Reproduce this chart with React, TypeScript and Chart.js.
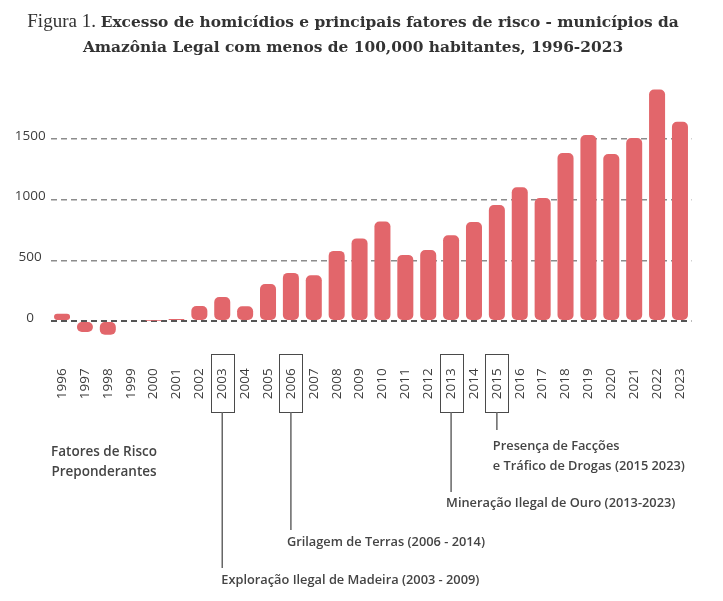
import React, { useEffect, useRef } from 'react';
import { Chart, registerables } from 'chart.js';

Chart.register(...registerables);

// ---- data ----
const years = [
  '1996', '1997', '1998', '1999', '2000', '2001', '2002', '2003', '2004', '2005',
  '2006', '2007', '2008', '2009', '2010', '2011', '2012', '2013', '2014', '2015',
  '2016', '2017', '2018', '2019', '2020', '2021', '2022', '2023',
];
const excessHomicides = [
  60, -90, -113, 0, 3, 16, 124, 198, 121, 305,
  396, 376, 577, 680, 818, 544, 585, 706, 815, 955,
  1100, 1013, 1383, 1531, 1375, 1506, 1906, 1640,
];
const yTickValues = [0, 500, 1000, 1500];
const titleLead = 'Figura 1. ';
const titleLine1 = 'Excesso de homicídios e principais fatores de risco - municípios da';
const titleLine2 = 'Amazônia Legal com menos de 100,000 habitantes, 1996-2023';
const legendTitle = ['Fatores de Risco', 'Preponderantes'];
const riskYears = ['2003', '2006', '2013', '2015'];
const riskLabels = [
  ['Exploração Ilegal de Madeira (2003 - 2009)'],
  ['Grilagem de Terras (2006 - 2014)'],
  ['Mineração Ilegal de Ouro (2013-2023)'],
  ['Presença de Facções', 'e Tráfico de Drogas (2015 2023)'],
];

// ---- layout (pixels) ----
const W = 723;
const H = 601;
const riskLineEnd = [568, 530, 492, 430];
const riskTextY = [580, 542, 503, 446];
const riskTextDx = [-1, -4, -5, -4];
const BAR_COLOR = '#E2666B';
const TEXT_COLOR = '#3d3d3d';
const ANNOT_FONT = '600 12.8px "Open Sans"';

const annotationPlugin = {
  id: 'riskAnnotations',
  afterDraw(chart: any) {
    const ctx = chart.ctx;
    const xs = chart.scales.x;
    ctx.save();
    ctx.fillStyle = '#444';
    ctx.font = '600 13.5px "Open Sans"';
    ctx.textAlign = 'center';
    ctx.textBaseline = 'middle';
    ctx.fillText(legendTitle[0], 104, 452);
    ctx.fillText(legendTitle[1], 104, 472);

    riskYears.forEach((yr, i) => {
      const idx = years.indexOf(yr);
      const x = xs.getPixelForValue(idx);
      const boxTop = 354;
      const boxBottom = 412;
      ctx.strokeStyle = '#4a4a4a';
      ctx.lineWidth = 1;
      ctx.strokeRect(Math.round(x - 11.5) + 0.5, boxTop + 0.5, 23, boxBottom - boxTop);
      ctx.strokeStyle = '#666';
      ctx.lineWidth = 1.5;
      ctx.beginPath();
      ctx.moveTo(x, boxBottom);
      ctx.lineTo(x, riskLineEnd[i]);
      ctx.stroke();
      ctx.fillStyle = '#444';
      ctx.font = ANNOT_FONT;
      ctx.textAlign = 'left';
      ctx.textBaseline = 'middle';
      riskLabels[i].forEach((t, j) => {
        ctx.fillText(t, x + riskTextDx[i], riskTextY[i] + j * 20);
      });
    });
    ctx.restore();
  },
};

function BarChart() {
  const ref = useRef<HTMLCanvasElement | null>(null);
  useEffect(() => {
    if (!ref.current) return;
    const chart = new Chart(ref.current, {
      type: 'bar',
      data: {
        labels: years,
        datasets: [
          {
            label: 'Excesso de homicídios',
            data: excessHomicides,
            backgroundColor: BAR_COLOR,
            borderRadius: 5,
            borderSkipped: false,
            barPercentage: 0.7,
            categoryPercentage: 1,
          },
        ],
      },
      options: {
        animation: false,
        responsive: true,
        maintainAspectRatio: false,
        layout: { padding: { top: 78, left: 0, right: 31.6, bottom: 0 } },
        plugins: {
          legend: { display: false },
          tooltip: { enabled: false },
          title: { display: false },
        },
        scales: {
          x: {
            grid: { display: false, drawTicks: false },
            border: { display: false },
            ticks: {
              autoSkip: false,
              minRotation: 90,
              maxRotation: 90,
              padding: 23,
              color: TEXT_COLOR,
              font: { family: 'Open Sans', size: 13.5 },
            },
            afterFit: (s: any) => {
              s.height = 255.7;
            },
          },
          y: {
            min: -200,
            max: 2000,
            afterBuildTicks: (s: any) => {
              s.ticks = yTickValues.map((v) => ({ value: v }));
            },
            afterFit: (s: any) => {
              s.width = 50.6;
            },
            grid: {
              drawTicks: false,
              color: (c: any) => (c.tick && c.tick.value === 0 ? '#555' : '#8c8c8c'),
              lineWidth: (c: any) => (c.tick && c.tick.value === 0 ? 2 : 1.5),
            },
            border: { display: false, dash: [6, 4] },
            ticks: {
              crossAlign: 'center',
              padding: 5,
              labelOffset: -3,
              color: TEXT_COLOR,
              font: { family: 'Open Sans', size: 13.5 },
              callback: (v: any) => String(v),
            },
          },
        },
      },
      plugins: [annotationPlugin],
    } as any);
    return () => chart.destroy();
  }, []);
  return <canvas ref={ref} />;
}

export default function App() {
  return (
    <div style={{ position: 'absolute', left: 0, top: 0, width: W, height: H, background: '#fff' }}>
      <div style={{ position: 'absolute', left: 0, top: 0, width: W, height: H }}>
        <BarChart />
      </div>
      <div
        style={{
          position: 'absolute',
          left: 0,
          top: 8,
          width: 706,
          textAlign: 'center',
          fontFamily: '"DejaVu Serif", serif',
          fontSize: 15.4,
          lineHeight: '25px',
          color: '#333',
          whiteSpace: 'nowrap',
        }}
      >
        <span style={{ fontWeight: 300, fontFamily: '"Liberation Serif", serif', fontSize: 19 }}>{titleLead}</span>
        <b>{titleLine1}</b>
        <br />
        <b>{titleLine2}</b>
      </div>
    </div>
  );
}
